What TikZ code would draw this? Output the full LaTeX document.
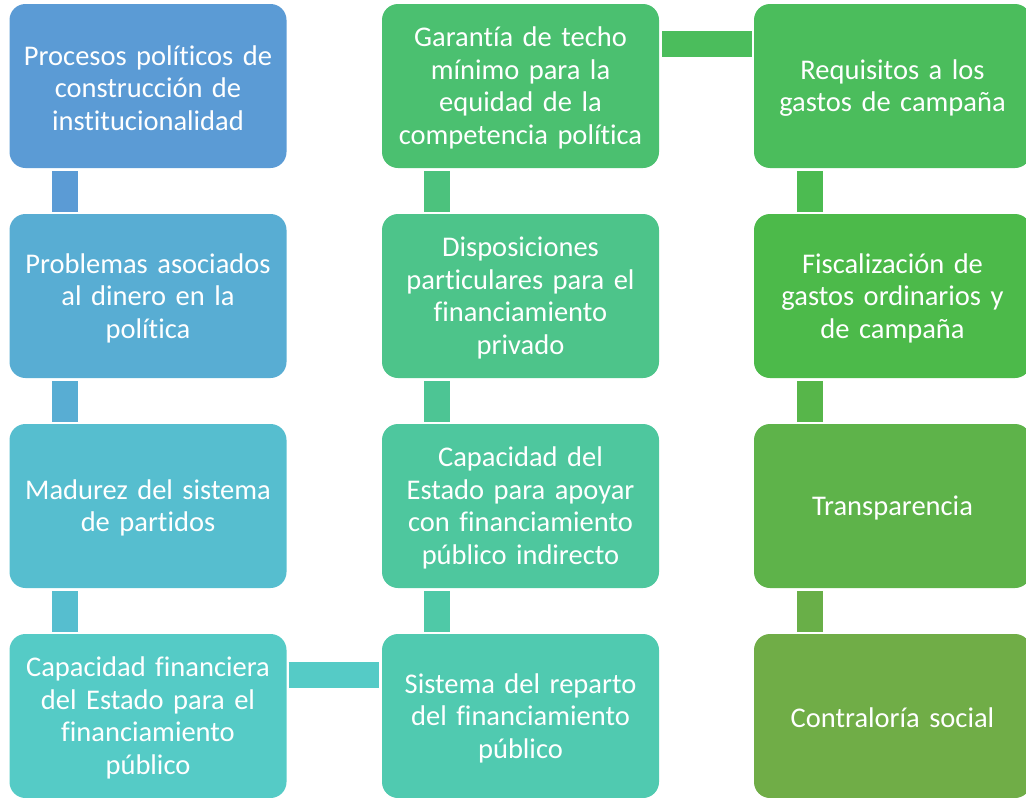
\documentclass[tikz,border=0pt]{standalone}
\usepackage{fontspec}
\setmainfont{Carlito}[Ligatures=NoCommon,WordSpace=0.85]
\begin{document}
\begin{tikzpicture}[x=1pt,y=-1pt,
  box/.style={rectangle, rounded corners=16pt, minimum width=277pt, minimum height=164pt,
    inner sep=0pt, fill=#1},
  txt/.style={inner sep=0pt, text width=275pt, align=center, text=white,
    font=\fontsize{28.5}{32.5}\selectfont},
  bar/.style={draw=#1, line width=26pt, line cap=butt}]
\definecolor{cA1}{HTML}{5B9BD5}
\definecolor{cA2}{HTML}{58ADD3}
\definecolor{cA3}{HTML}{56BECF}
\definecolor{cA4}{HTML}{55CBC6}
\definecolor{cB4}{HTML}{50CAB0}
\definecolor{cB3}{HTML}{4EC79E}
\definecolor{cB2}{HTML}{4DC48A}
\definecolor{cB1}{HTML}{4BC070}
\definecolor{cC1}{HTML}{4BBD5C}
\definecolor{cC2}{HTML}{4CBA4A}
\definecolor{cC3}{HTML}{5EB34A}
\definecolor{cC4}{HTML}{70AD47}
\useasboundingbox (0,0) rectangle (1026,798);
\node[box=cA1] (a1) at (148,86) {};
\node[box=cA2] (a2) at (148,296) {};
\node[box=cA3] (a3) at (148,506) {};
\node[box=cA4] (a4) at (148,716) {};
\node[box=cB4] (b4) at (520.5,716) {};
\node[box=cB3] (b3) at (520.5,506) {};
\node[box=cB2] (b2) at (520.5,296) {};
\node[box=cB1] (b1) at (520.5,86) {};
\node[box=cC1] (c1) at (892.5,86) {};
\node[box=cC2] (c2) at (892.5,296) {};
\node[box=cC3] (c3) at (892.5,506) {};
\node[box=cC4] (c4) at (892.5,716) {};
\node[txt] (a1t) at ([yshift=-2pt]a1.center) {Procesos políticos de\\construcción de\\institucionalidad};
\node[txt] (a2t) at ([yshift=-2pt]a2.center) {Problemas asociados\\al dinero en la\\política};
\node[txt] (a3t) at ([yshift=-2pt]a3.center) {Madurez del sistema\\de partidos};
\node[txt] (a4t) at ([yshift=-2pt]a4.center) {Capacidad financiera\\del Estado para el\\financiamiento\\público};
\node[txt] (b4t) at ([yshift=-2pt]b4.center) {Sistema del reparto\\del financiamiento\\público};
\node[txt] (b3t) at ([yshift=-2pt]b3.center) {Capacidad del\\Estado para apoyar\\con financiamiento\\público indirecto};
\node[txt] (b2t) at ([yshift=-2pt]b2.center) {Disposiciones\\particulares para el\\financiamiento\\privado};
\node[txt] (b1t) at ([yshift=-2pt]b1.center) {Garantía de techo\\mínimo para la\\equidad de la\\competencia política};
\node[txt] (c1t) at ([yshift=-2pt]c1.center) {Requisitos a los\\gastos de campaña};
\node[txt] (c2t) at ([yshift=-2pt]c2.center) {Fiscalización de\\gastos ordinarios y\\de campaña};
\node[txt] (c3t) at ([yshift=-2pt]c3.center) {Transparencia};
\node[txt] (c4t) at ([yshift=-2pt]c4.center) {Contraloría social};
% vertical connectors
\draw[bar=cA1] ([xshift=56pt,yshift=-3pt]a1.south west) -- ([xshift=56pt,yshift=2pt]a2.north west);
\draw[bar=cA2] ([xshift=56pt,yshift=-3pt]a2.south west) -- ([xshift=56pt,yshift=2pt]a3.north west);
\draw[bar=cA3] ([xshift=56pt,yshift=-3pt]a3.south west) -- ([xshift=56pt,yshift=2pt]a4.north west);
\draw[bar=cB4!50!cB3] ([xshift=55pt,yshift=2pt]b4.north west) -- ([xshift=55pt,yshift=-3pt]b3.south west);
\draw[bar=cB3!50!cB2] ([xshift=55pt,yshift=2pt]b3.north west) -- ([xshift=55pt,yshift=-3pt]b2.south west);
\draw[bar=cB2!50!cB1] ([xshift=55pt,yshift=2pt]b2.north west) -- ([xshift=55pt,yshift=-3pt]b1.south west);
\draw[bar=cC1!40!cC2] ([xshift=56pt,yshift=-3pt]c1.south west) -- ([xshift=56pt,yshift=2pt]c2.north west);
\draw[bar=cC2!40!cC3] ([xshift=56pt,yshift=-3pt]c2.south west) -- ([xshift=56pt,yshift=2pt]c3.north west);
\draw[bar=cC3!40!cC4] ([xshift=56pt,yshift=-3pt]c3.south west) -- ([xshift=56pt,yshift=2pt]c4.north west);
% horizontal connectors
\draw[bar=cA4] ([xshift=2pt,yshift=-41pt]a4.north east) -- ([xshift=-3pt,yshift=-41pt]b4.north west);
\draw[bar=cC1] ([xshift=3pt,yshift=-40.5pt]b1.north east) -- ([xshift=-2pt,yshift=-40.5pt]c1.north west);
\end{tikzpicture}
\end{document}
